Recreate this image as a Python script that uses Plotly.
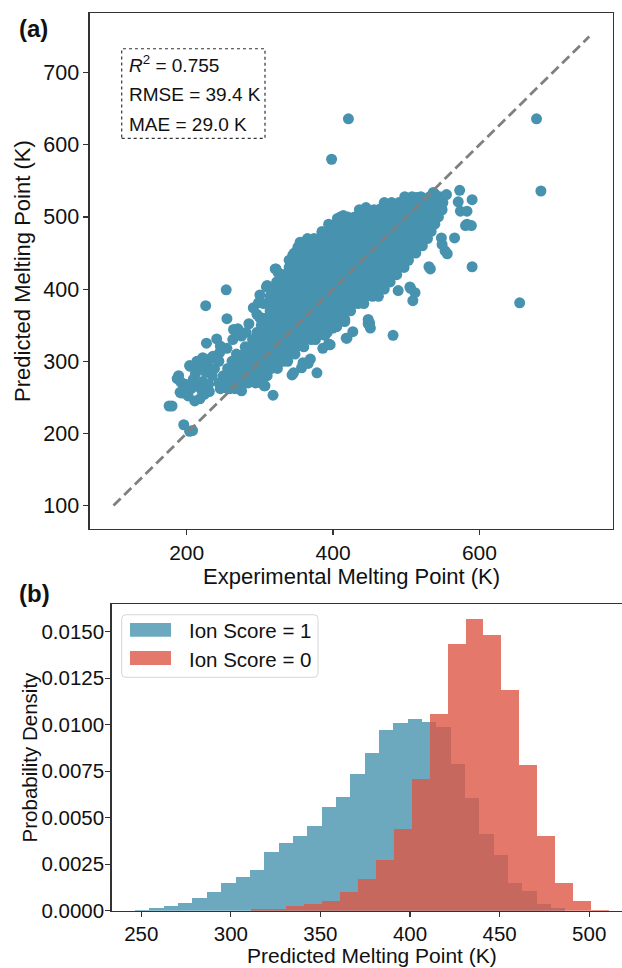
import plotly.graph_objects as go

# ---------------- data: panel (a) scatter ----------------
# dense core, organised by predicted-value rows -> experimental values in that row
core_pred = [262, 270, 280, 290, 300, 310, 320, 330, 340, 350, 360, 370, 380, 390, 400,
             410, 420, 430, 440, 450, 460, 470, 480, 490, 500, 510, 520, 528]
core_exp = [
    [246, 256, 266],
    [244, 254, 264, 274, 284, 294, 302],
    [250, 260, 270, 280, 290, 300, 310],
    [256, 266, 276, 286, 296, 306, 316, 324],
    [262, 272, 282, 292, 302, 312, 322, 332, 338],
    [268, 278, 288, 298, 308, 318, 328, 338, 348],
    [280, 290, 300, 310, 320, 330, 340, 350, 360],
    [290, 300, 310, 320, 330, 340, 350, 360, 370, 376],
    [296, 306, 316, 326, 336, 346, 356, 366, 376, 386, 392],
    [302, 312, 322, 332, 342, 352, 362, 372, 382, 392, 402],
    [309, 319, 329, 339, 349, 359, 369, 379, 389, 399, 409, 414],
    [314, 324, 334, 344, 354, 364, 374, 384, 394, 404, 414, 424],
    [314, 324, 334, 344, 354, 364, 374, 384, 394, 404, 414, 424, 434, 442],
    [314, 324, 334, 344, 354, 364, 374, 384, 394, 404, 414, 424, 434, 444, 454, 462],
    [315, 325, 335, 345, 355, 365, 375, 385, 395, 405, 415, 425, 435, 445, 455, 465, 470],
    [323, 333, 343, 353, 363, 373, 383, 393, 403, 413, 423, 433, 443, 453, 463, 473, 478],
    [332, 342, 352, 362, 372, 382, 392, 402, 412, 422, 432, 442, 452, 462, 472, 482, 487],
    [340, 350, 360, 370, 380, 390, 400, 410, 420, 430, 440, 450, 460, 470, 480, 490, 497],
    [343, 353, 363, 373, 383, 393, 403, 413, 423, 433, 443, 453, 463, 473, 483, 493, 503],
    [347, 357, 367, 377, 387, 397, 407, 417, 427, 437, 447, 457, 467, 477, 487, 497, 507, 513],
    [355, 365, 375, 385, 395, 405, 415, 425, 435, 445, 455, 465, 475, 485, 495, 505, 515, 522],
    [374, 384, 394, 404, 414, 424, 434, 444, 454, 464, 474, 484, 494, 504, 514, 524, 529],
    [385, 395, 405, 415, 425, 435, 445, 455, 465, 475, 485, 495, 505, 515, 525, 534],
    [394, 404, 414, 424, 434, 444, 454, 464, 474, 484, 494, 504, 514, 524, 534, 539],
    [410, 420, 430, 440, 450, 460, 470, 480, 490, 500, 510, 520, 530, 540, 544],
    [436, 446, 456, 466, 476, 486, 496, 506, 516, 526, 536, 546, 549],
    [470, 480, 490, 500, 510, 520, 530, 540, 550],
    [498, 508, 520, 532, 546],
]
# scattered / edge points
edge_exp = [421, 398, 678, 684, 655, 573, 590, 539, 512, 445, 406, 416, 590, 533, 589,
            583, 566, 548, 553, 556, 571, 574, 352, 368, 322, 325, 254, 310, 319, 489,
            512, 509, 505, 226, 255, 241, 227, 233, 215, 205, 189, 192, 193, 180, 176,
            196, 208, 204, 211, 218, 246, 268, 273, 281, 291, 298, 300, 318, 306, 275,
            344, 357, 366, 378, 389, 395, 404, 418, 427, 450, 451, 482, 414, 428, 464,
            482, 514, 537, 555, 583, 581, 549, 448, 416, 400, 369, 506, 531, 386, 394,
            191, 187, 204, 214, 209, 202, 224, 198, 206, 216, 222, 230, 235, 226, 218,
            212, 221, 231, 238, 244, 228, 222, 245, 236, 255, 264, 270, 303, 309, 321,
            259, 273, 300, 307, 346, 359, 387, 396, 419, 405, 416, 448, 263, 275, 285,
            296, 305, 300, 340, 345, 330, 355, 365, 385]
edge_pred = [636, 580, 636, 536, 381, 537, 524, 532, 524, 513, 498, 500, 431, 428, 488,
             490, 471, 471, 453, 449, 521, 508, 458, 452, 428, 423, 399, 405, 399, 398,
             395, 384, 403, 377, 359, 331, 325, 304, 297, 293, 280, 271, 256, 238, 238,
             212, 204, 203, 245, 248, 321, 340, 339, 340, 374, 381, 360, 253, 266, 259,
             281, 291, 297, 284, 336, 323, 348, 332, 341, 353, 346, 336, 502, 499, 511,
             518, 527, 534, 531, 508, 488, 462, 358, 358, 346, 303, 401, 431, 318, 324,
             257, 276, 294, 300, 275, 252, 254, 268, 262, 265, 272, 268, 280, 285, 290,
             283, 259, 258, 290, 300, 296, 305, 312, 307, 318, 344, 345, 360, 403, 428,
             262, 262, 271, 266, 284, 298, 337, 323, 332, 348, 355, 352, 330, 335, 352,
             365, 380, 392, 440, 447, 420, 465, 470, 478]

identity_line = [100, 750]
stats_text = ["<i>R</i><sup>2</sup> = 0.755", "RMSE = 39.4 K", "MAE = 29.0 K"]

# ---------------- data: panel (b) histograms (density per bin) ----------------
blue_bin_left = [246.6, 254.6, 262.6, 270.6, 278.6, 286.6, 294.6, 302.6, 310.6, 318.6,
                 326.6, 334.6, 342.6, 350.6, 358.6, 366.6, 374.6, 382.6, 390.6, 398.6,
                 406.6, 414.6, 422.6, 430.6, 438.6, 446.6, 454.6, 462.6, 470.6, 478.6]
blue_bin_width = 8.0
blue_density = [0.00002, 0.00014, 0.00027, 0.00040, 0.00066, 0.00100, 0.00147, 0.00179,
                0.00221, 0.00314, 0.00365, 0.00404, 0.00457, 0.00560, 0.00611, 0.00735,
                0.00850, 0.00970, 0.01010, 0.01030, 0.01015, 0.00989, 0.00789, 0.00608,
                0.00413, 0.00298, 0.00147, 0.00106, 0.00035, 0.00014]
red_bin_left = [311, 321, 331, 341, 351, 361, 371, 381, 391, 401,
                411, 421, 431, 441, 451, 461, 471, 481, 491, 501]
red_bin_width = 10.0
red_density = [0.00007, 0.00010, 0.00023, 0.00037, 0.00050, 0.00103, 0.00168, 0.00275,
               0.00440, 0.00710, 0.01056, 0.01432, 0.01570, 0.01483, 0.01187, 0.00785,
               0.00399, 0.00150, 0.00050, 0.00004]
legend_labels = ["Ion Score = 1", "Ion Score = 0"]

# ---------------- styling ----------------
W = 622
H_FIG = 980          # slightly taller than the 968 window: bottom title is clipped as in the reference
BLUE = "#4793AF"
RED = "#DD5746"
FONT = "Liberation Sans, Arial, Helvetica, sans-serif"
AX = "#333333"
TXT = "#111111"


def fx(p):
    return p / W


def fy(p):
    return 1 - p / H_FIG


exp_all, pred_all = [], []
for yv, row in zip(core_pred, core_exp):
    for xv in row:
        exp_all.append(xv)
        pred_all.append(yv)
exp_all += edge_exp
pred_all += edge_pred

fig = go.Figure()
fig.add_trace(go.Scatter(x=exp_all, y=pred_all, mode="markers",
                         marker=dict(color=BLUE, size=11, line=dict(width=0)),
                         xaxis="x", yaxis="y", showlegend=False, hoverinfo="skip"))
fig.add_trace(go.Scatter(x=identity_line, y=identity_line, mode="lines",
                         line=dict(color="#808080", width=2.8, dash="10px,5px"),
                         xaxis="x", yaxis="y", showlegend=False, hoverinfo="skip"))

blue_centers = [b + blue_bin_width / 2 for b in blue_bin_left]
red_centers = [b + red_bin_width / 2 for b in red_bin_left]
fig.add_trace(go.Bar(x=blue_centers, y=blue_density, width=blue_bin_width,
                     marker=dict(color=BLUE, opacity=0.8, line=dict(width=0)),
                     xaxis="x2", yaxis="y2", name=legend_labels[0], showlegend=False,
                     hoverinfo="skip"))
fig.add_trace(go.Bar(x=red_centers, y=red_density, width=red_bin_width,
                     marker=dict(color=RED, opacity=0.8, line=dict(width=0)),
                     xaxis="x2", yaxis="y2", name=legend_labels[1], showlegend=False,
                     hoverinfo="skip"))


def axis_style(fsize):
    return dict(showgrid=False, zeroline=False, showline=True, linecolor=AX,
                linewidth=1.3, ticks="outside", ticklen=5, tickwidth=1.2,
                tickcolor=AX, tickfont=dict(family=FONT, size=fsize, color=TXT))


fig.update_layout(
    width=W, height=H_FIG, margin=dict(l=0, r=0, t=0, b=0),
    paper_bgcolor="white", plot_bgcolor="white",
    barmode="overlay", bargap=0, showlegend=False,
    font=dict(family=FONT, color=TXT),
    xaxis=dict(domain=[fx(89.7), fx(613)], range=[67.5, 782.5],
               tickvals=[200, 400, 600], anchor="y", mirror=True,
               ticklabelstandoff=0, **axis_style(21)),
    yaxis=dict(domain=[fy(535), fy(13.3)], range=[67.5, 782.5],
               tickvals=[100, 200, 300, 400, 500, 600, 700], anchor="x",
               mirror=True, **axis_style(21.5)),
    xaxis2=dict(domain=[fx(111.5), 1.0], range=[233.4, 518.3],
                tickvals=[250, 300, 350, 400, 450, 500], anchor="y2",
                mirror=True, ticklabelstandoff=-1, **axis_style(20.5)),
    yaxis2=dict(domain=[fy(921), fy(611)], range=[0, 0.01649],
                tickvals=[0, 0.0025, 0.005, 0.0075, 0.01, 0.0125, 0.015],
                tickformat=".4f", anchor="x2", mirror=False,
                ticklabelstandoff=-3, **axis_style(20.5)),
)

shapes = []
# stats box (dotted)
shapes.append(dict(type="rect", xref="paper", yref="paper",
                   x0=fx(121.7), x1=fx(265), y0=fy(140), y1=fy(49.3),
                   line=dict(color=AX, width=1.2, dash="dot"), fillcolor="white",
                   layer="above"))
# legend box with rounded corners
lx0, lx1, ly0, ly1, r = 121.7, 318, 621.7, 685, 4
path = (f"M {fx(lx0 + r)},{fy(ly0)} L {fx(lx1 - r)},{fy(ly0)} "
        f"Q {fx(lx1)},{fy(ly0)} {fx(lx1)},{fy(ly0 + r)} "
        f"L {fx(lx1)},{fy(ly1 - r)} Q {fx(lx1)},{fy(ly1)} {fx(lx1 - r)},{fy(ly1)} "
        f"L {fx(lx0 + r)},{fy(ly1)} Q {fx(lx0)},{fy(ly1)} {fx(lx0)},{fy(ly1 - r)} "
        f"L {fx(lx0)},{fy(ly0 + r)} Q {fx(lx0)},{fy(ly0)} {fx(lx0 + r)},{fy(ly0)} Z")
shapes.append(dict(type="path", xref="paper", yref="paper", path=path,
                   line=dict(color="#d6d6d6", width=1), fillcolor="rgba(255,255,255,0.8)",
                   layer="above"))
shapes.append(dict(type="rect", xref="paper", yref="paper",
                   x0=fx(130), x1=fx(171), y0=fy(644), y1=fy(630),
                   line=dict(width=0), fillcolor=BLUE, opacity=0.8, layer="above"))
shapes.append(dict(type="rect", xref="paper", yref="paper",
                   x0=fx(130), x1=fx(171), y0=fy(672.5), y1=fy(658.5),
                   line=dict(width=0), fillcolor=RED, opacity=0.8, layer="above"))

annotations = []


def ann(text, x, y, size, xanchor="center", angle=0, bold=False):
    annotations.append(dict(text=f"<b>{text}</b>" if bold else text,
                            x=fx(x), y=fy(y), xref="paper", yref="paper",
                            xanchor=xanchor, yanchor="middle", showarrow=False,
                            textangle=angle,
                            font=dict(family=FONT, size=size, color=TXT)))


for t, yy in zip(stats_text, [65, 95.5, 125.5]):
    ann(t, 127, yy, 19, xanchor="left")
for t, yy in zip(legend_labels, [638, 666.5]):
    ann(t, 187, yy, 20.5, xanchor="left")
ann("Experimental Melting Point (K)", 351.5, 583, 22)
ann("Predicted Melting Point (K)", 23, 274, 22, angle=-90)
ann("Predicted Melting Point (K)", 371.7, 966.5, 21)
ann("Probability Density", 29, 766, 20.5, angle=-90)
ann("(a)", 33, 29, 24, bold=True)
ann("(b)", 34, 600, 24, bold=True)

fig.update_layout(shapes=shapes, annotations=annotations)
# remove the browser's default 8px body margin so the figure fills the window
fig.write_html("out.html",
               config={"displayModeBar": False, "staticPlot": True},
               post_script="document.body.style.margin='0px';document.body.style.overflow='hidden';")
